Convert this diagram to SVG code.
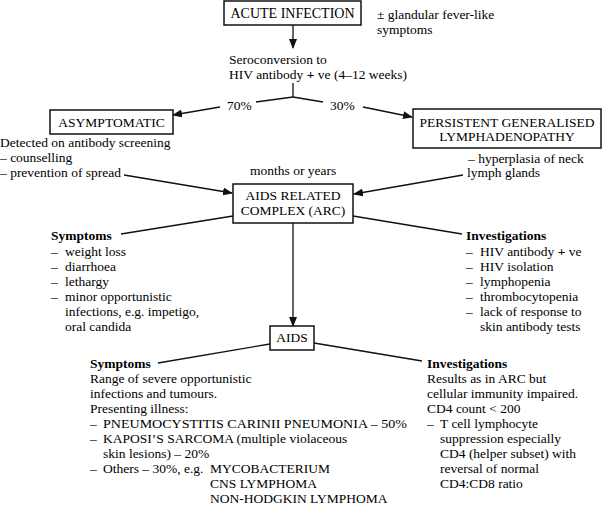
<svg xmlns="http://www.w3.org/2000/svg" width="604" height="506" viewBox="0 0 604 506">
<style>
.c{text-anchor:middle}
.b{font-weight:bold}
.box{fill:#fff;stroke:#111;stroke-width:1.5}
.ln{stroke:#111;stroke-width:1.3;fill:none}
.ar{marker-end:url(#ah)}
</style>
<defs>
<marker id="ah" markerUnits="userSpaceOnUse" markerWidth="10" markerHeight="8" refX="9" refY="4" orient="auto">
<path d="M0,0 L10,4 L0,8 Z" fill="#111"/>
</marker>
</defs>
<rect width="604" height="506" fill="#fff"/>
<g id="connectors">
<line class="ln ar" x1="293" y1="25" x2="293" y2="48"/>
<line class="ln" x1="293" y1="83" x2="293" y2="97"/>
<line class="ln" x1="293" y1="97" x2="256" y2="102"/>
<line class="ln" x1="293" y1="97" x2="323" y2="102"/>
<line class="ln ar" x1="220" y1="107" x2="173" y2="115"/>
<line class="ln ar" x1="363" y1="107" x2="412" y2="117"/>
<line class="ln ar" x1="124" y1="175" x2="232" y2="193"/>
<line class="ln ar" x1="463" y1="175" x2="354" y2="194"/>
<line class="ln" x1="233" y1="216" x2="121" y2="234"/>
<line class="ln" x1="353" y1="216" x2="462" y2="234"/>
<line class="ln ar" x1="293" y1="223" x2="293" y2="326"/>
<line class="ln" x1="270" y1="344" x2="158" y2="363"/>
<line class="ln" x1="314" y1="343" x2="422" y2="361"/>
</g>
<g id="acute">
<rect class="box" x="224" y="1" width="137" height="24"/>
<text class="c" x="292.5" y="18" font-family="'Liberation Serif', serif" font-size="14">ACUTE INFECTION</text>
</g>
<g id="acute-note">
<text x="377" y="19" font-family="'Liberation Serif', serif" font-size="13.5">± glandular fever-like</text>
<text x="377" y="34" font-family="'Liberation Serif', serif" font-size="13.5">symptoms</text>
</g>
<g id="seroconversion">
<text x="229" y="64" font-family="'Liberation Serif', serif" font-size="13.5">Seroconversion to</text>
<text x="229" y="79" font-family="'Liberation Serif', serif" font-size="13.5">HIV antibody <tspan class="b">+</tspan> ve (4–12 weeks)</text>
</g>
<g id="pct">
<text x="227" y="110" font-family="'Liberation Serif', serif" font-size="13.5">70%</text>
<text x="330" y="110" font-family="'Liberation Serif', serif" font-size="13.5">30%</text>
</g>
<g id="asymptomatic">
<rect class="box" x="50" y="110" width="123" height="24"/>
<text class="c" x="111.5" y="127" font-family="'Liberation Serif', serif" font-size="13.5">ASYMPTOMATIC</text>
</g>
<g id="asymptomatic-note">
<text x="0" y="147" font-family="'Liberation Serif', serif" font-size="13.5">Detected on antibody screening</text>
<text x="0" y="162" font-family="'Liberation Serif', serif" font-size="13.5">– counselling</text>
<text x="0" y="177" font-family="'Liberation Serif', serif" font-size="13.5">– prevention of spread</text>
</g>
<g id="pgl">
<rect class="box" x="413" y="109" width="188" height="39"/>
<text class="c" x="507" y="127" font-family="'Liberation Serif', serif" font-size="13.5">PERSISTENT GENERALISED</text>
<text class="c" x="507" y="141" font-family="'Liberation Serif', serif" font-size="13.5">LYMPHADENOPATHY</text>
</g>
<g id="pgl-note">
<text x="468" y="163" font-family="'Liberation Serif', serif" font-size="13.5">– hyperplasia of neck</text>
<text x="467" y="177" font-family="'Liberation Serif', serif" font-size="13.5">lymph glands</text>
</g>
<text x="250" y="175" font-family="'Liberation Serif', serif" font-size="13.5">months or years</text>
<g id="arc">
<rect class="box" x="233" y="184" width="120" height="39"/>
<text class="c" x="293" y="200" font-family="'Liberation Serif', serif" font-size="13.5">AIDS RELATED</text>
<text class="c" x="293" y="215" font-family="'Liberation Serif', serif" font-size="13.5">COMPLEX (ARC)</text>
</g>
<g id="arc-symptoms">
<text class="b" x="51" y="240" font-family="'Liberation Serif', serif" font-size="13.5">Symptoms</text>
<text x="51" y="256" font-family="'Liberation Serif', serif" font-size="13.5">–</text>
<text x="65" y="256" font-family="'Liberation Serif', serif" font-size="13.5">weight loss</text>
<text x="51" y="271" font-family="'Liberation Serif', serif" font-size="13.5">–</text>
<text x="65" y="271" font-family="'Liberation Serif', serif" font-size="13.5">diarrhoea</text>
<text x="51" y="286" font-family="'Liberation Serif', serif" font-size="13.5">–</text>
<text x="65" y="286" font-family="'Liberation Serif', serif" font-size="13.5">lethargy</text>
<text x="51" y="301" font-family="'Liberation Serif', serif" font-size="13.5">–</text>
<text x="65" y="301" font-family="'Liberation Serif', serif" font-size="13.5">minor opportunistic</text>
<text x="65" y="316" font-family="'Liberation Serif', serif" font-size="13.5">infections, e.g. impetigo,</text>
<text x="65" y="331" font-family="'Liberation Serif', serif" font-size="13.5">oral candida</text>
</g>
<g id="arc-investigations">
<text class="b" x="466" y="240" font-family="'Liberation Serif', serif" font-size="13.5">Investigations</text>
<text x="466" y="256" font-family="'Liberation Serif', serif" font-size="13.5">–</text>
<text x="480" y="256" font-family="'Liberation Serif', serif" font-size="13.5">HIV antibody <tspan class="b">+</tspan> ve</text>
<text x="466" y="271" font-family="'Liberation Serif', serif" font-size="13.5">–</text>
<text x="480" y="271" font-family="'Liberation Serif', serif" font-size="13.5">HIV isolation</text>
<text x="466" y="286" font-family="'Liberation Serif', serif" font-size="13.5">–</text>
<text x="480" y="286" font-family="'Liberation Serif', serif" font-size="13.5">lymphopenia</text>
<text x="466" y="301" font-family="'Liberation Serif', serif" font-size="13.5">–</text>
<text x="480" y="301" font-family="'Liberation Serif', serif" font-size="13.5">thrombocytopenia</text>
<text x="466" y="316" font-family="'Liberation Serif', serif" font-size="13.5">–</text>
<text x="480" y="316" font-family="'Liberation Serif', serif" font-size="13.5">lack of response to</text>
<text x="480" y="331" font-family="'Liberation Serif', serif" font-size="13.5">skin antibody tests</text>
</g>
<g id="aids">
<rect class="box" x="270" y="326" width="44" height="24"/>
<text class="c" x="292" y="342" font-family="'Liberation Serif', serif" font-size="13.5">AIDS</text>
</g>
<g id="aids-symptoms">
<text class="b" x="90" y="368" font-family="'Liberation Serif', serif" font-size="13.5">Symptoms</text>
<text x="90" y="383" font-family="'Liberation Serif', serif" font-size="13.5">Range of severe opportunistic</text>
<text x="90" y="398" font-family="'Liberation Serif', serif" font-size="13.5">infections and tumours.</text>
<text x="90" y="413" font-family="'Liberation Serif', serif" font-size="13.5">Presenting illness:</text>
<text x="90" y="428" font-family="'Liberation Serif', serif" font-size="13.5">–</text>
<text x="103" y="428" font-family="'Liberation Serif', serif" font-size="13.5" textLength="304" lengthAdjust="spacingAndGlyphs">PNEUMOCYSTITIS CARINII PNEUMONIA – 50%</text>
<text x="90" y="443" font-family="'Liberation Serif', serif" font-size="13.5">–</text>
<text x="103" y="443" font-family="'Liberation Serif', serif" font-size="13.5">KAPOSI’S SARCOMA (multiple violaceous</text>
<text x="103" y="458" font-family="'Liberation Serif', serif" font-size="13.5">skin lesions) – 20%</text>
<text x="90" y="473" font-family="'Liberation Serif', serif" font-size="13.5">–</text>
<text x="103" y="473" font-family="'Liberation Serif', serif" font-size="13.5">Others – 30%, e.g.</text>
<text x="210" y="473" font-family="'Liberation Serif', serif" font-size="13.5">MYCOBACTERIUM</text>
<text x="210" y="488" font-family="'Liberation Serif', serif" font-size="13.5">CNS LYMPHOMA</text>
<text x="210" y="503" font-family="'Liberation Serif', serif" font-size="13.5">NON-HODGKIN LYMPHOMA</text>
</g>
<g id="aids-investigations">
<text class="b" x="427" y="368" font-family="'Liberation Serif', serif" font-size="13.5">Investigations</text>
<text x="427" y="383" font-family="'Liberation Serif', serif" font-size="13.5">Results as in ARC but</text>
<text x="427" y="398" font-family="'Liberation Serif', serif" font-size="13.5">cellular immunity impaired.</text>
<text x="427" y="413" font-family="'Liberation Serif', serif" font-size="13.5">CD4 count &lt; 200</text>
<text x="427" y="428" font-family="'Liberation Serif', serif" font-size="13.5">–</text>
<text x="440" y="428" font-family="'Liberation Serif', serif" font-size="13.5">T cell lymphocyte</text>
<text x="440" y="443" font-family="'Liberation Serif', serif" font-size="13.5">suppression especially</text>
<text x="440" y="458" font-family="'Liberation Serif', serif" font-size="13.5">CD4 (helper subset) with</text>
<text x="440" y="473" font-family="'Liberation Serif', serif" font-size="13.5">reversal of normal</text>
<text x="440" y="488" font-family="'Liberation Serif', serif" font-size="13.5">CD4:CD8 ratio</text>
</g>
</svg>
